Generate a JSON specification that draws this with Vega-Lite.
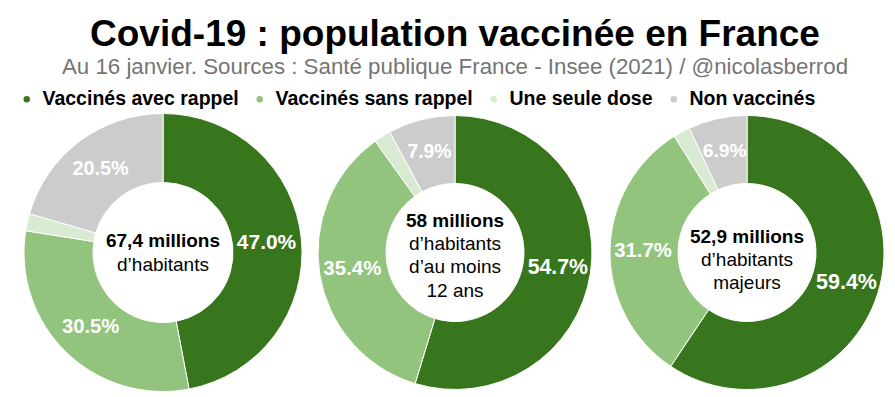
{
  "$schema": "https://vega.github.io/schema/vega-lite/v6.json",
  "padding": {"left": 17, "top": 15, "right": 0, "bottom": 4},
  "background": "#ffffff",
  "title": {
    "text": "Covid-19 : population vaccinée en France",
    "subtitle": "Au 16 janvier. Sources : Santé publique France - Insee (2021) / @nicolasberrod",
    "anchor": "middle",
    "font": "Liberation Sans",
    "fontSize": 37,
    "fontWeight": "bold",
    "color": "#000000",
    "subtitleFont": "Liberation Sans",
    "subtitleFontSize": 22.3,
    "subtitleColor": "#757575",
    "subtitlePadding": 2,
    "offset": 10
  },
  "datasets": {
    "parts": [
      {"pop": "A", "rang": 1, "cat": "Vaccinés avec rappel", "pct": 0.470},
      {"pop": "A", "rang": 2, "cat": "Vaccinés sans rappel", "pct": 0.305},
      {"pop": "A", "rang": 3, "cat": "Une seule dose", "pct": 0.020},
      {"pop": "A", "rang": 4, "cat": "Non vaccinés", "pct": 0.205},
      {"pop": "B", "rang": 1, "cat": "Vaccinés avec rappel", "pct": 0.547},
      {"pop": "B", "rang": 2, "cat": "Vaccinés sans rappel", "pct": 0.354},
      {"pop": "B", "rang": 3, "cat": "Une seule dose", "pct": 0.020},
      {"pop": "B", "rang": 4, "cat": "Non vaccinés", "pct": 0.079},
      {"pop": "C", "rang": 1, "cat": "Vaccinés avec rappel", "pct": 0.594},
      {"pop": "C", "rang": 2, "cat": "Vaccinés sans rappel", "pct": 0.317},
      {"pop": "C", "rang": 3, "cat": "Une seule dose", "pct": 0.020},
      {"pop": "C", "rang": 4, "cat": "Non vaccinés", "pct": 0.069}
    ],
    "centres": [
      {"pop": "A", "titre": "67,4 millions", "lignes": "d’habitants"},
      {"pop": "B", "titre": "58 millions", "lignes": "d’habitants|d’au moins|12 ans"},
      {"pop": "C", "titre": "52,9 millions", "lignes": "d’habitants|majeurs"}
    ]
  },
  "spacing": 0,
  "hconcat": [
    {
      "width": 292, "height": 277,
      "layer": [
        {
          "data": {"name": "parts"},
          "transform": [{"filter": "datum.pop === 'A'"}],
          "mark": {"type": "arc", "outerRadius": 139, "innerRadius": 70, "stroke": "#ffffff", "strokeWidth": 1},
          "encoding": {
            "theta": {"field": "pct", "type": "quantitative", "stack": true},
            "order": {"field": "rang", "type": "quantitative"},
            "color": {"field": "cat", "type": "nominal",
              "scale": {"domain": ["Vaccinés avec rappel", "Vaccinés sans rappel", "Une seule dose", "Non vaccinés"], "range": ["#38761d", "#93c47d", "#d9ead3", "#cccccc"]},
              "legend": {"title": null}}
          }
        },
        {
          "data": {"name": "parts"},
          "transform": [{"filter": "datum.pop === 'A'"}],
          "mark": {"type": "text", "radius": 104, "font": "Liberation Sans", "fontWeight": "bold", "fill": "#ffffff"},
          "encoding": {
            "theta": {"field": "pct", "type": "quantitative", "stack": true},
            "order": {"field": "rang", "type": "quantitative"},
            "detail": {"field": "cat", "type": "nominal"},
            "size": {"field": "pct", "type": "quantitative", "scale": {"domain": [0, 0.6], "range": [19, 21.5]}, "legend": null},
            "text": {"condition": {"test": "datum.cat === 'Une seule dose'", "value": ""}, "field": "pct", "type": "quantitative", "format": ".1%"}
          }
        },
        {
          "data": {"name": "centres"},
          "transform": [{"filter": "datum.pop === 'A'"}],
          "mark": {"type": "text", "font": "Liberation Sans", "fontWeight": "bold", "fontSize": 19, "fill": "#000000", "dy": -12},
          "encoding": {"text": {"field": "titre", "type": "nominal"}}
        },
        {
          "data": {"name": "centres"},
          "transform": [{"filter": "datum.pop === 'A'"}],
          "mark": {"type": "text", "font": "Liberation Sans", "fontSize": 19, "fill": "#000000", "lineBreak": "|", "lineHeight": 23, "dy": 12},
          "encoding": {"text": {"field": "lignes", "type": "nominal"}}
        }
      ]
    },
    {
      "width": 292, "height": 277,
      "layer": [
        {
          "data": {"name": "parts"},
          "transform": [{"filter": "datum.pop === 'B'"}],
          "mark": {"type": "arc", "outerRadius": 137, "innerRadius": 69, "stroke": "#ffffff", "strokeWidth": 1},
          "encoding": {
            "theta": {"field": "pct", "type": "quantitative", "stack": true},
            "order": {"field": "rang", "type": "quantitative"},
            "color": {"field": "cat", "type": "nominal", "legend": {"title": null}}
          }
        },
        {
          "data": {"name": "parts"},
          "transform": [{"filter": "datum.pop === 'B'"}],
          "mark": {"type": "text", "radius": 104, "font": "Liberation Sans", "fontWeight": "bold", "fill": "#ffffff"},
          "encoding": {
            "theta": {"field": "pct", "type": "quantitative", "stack": true},
            "order": {"field": "rang", "type": "quantitative"},
            "detail": {"field": "cat", "type": "nominal"},
            "size": {"field": "pct", "type": "quantitative", "scale": {"domain": [0, 0.6], "range": [19, 21.5]}, "legend": null},
            "text": {"condition": {"test": "datum.cat === 'Une seule dose'", "value": ""}, "field": "pct", "type": "quantitative", "format": ".1%"}
          }
        },
        {
          "data": {"name": "centres"},
          "transform": [{"filter": "datum.pop === 'B'"}],
          "mark": {"type": "text", "font": "Liberation Sans", "fontWeight": "bold", "fontSize": 19, "fill": "#000000", "dy": -32},
          "encoding": {"text": {"field": "titre", "type": "nominal"}}
        },
        {
          "data": {"name": "centres"},
          "transform": [{"filter": "datum.pop === 'B'"}],
          "mark": {"type": "text", "font": "Liberation Sans", "fontSize": 19, "fill": "#000000", "lineBreak": "|", "lineHeight": 23.5, "dy": -9},
          "encoding": {"text": {"field": "lignes", "type": "nominal"}}
        }
      ]
    },
    {
      "width": 292, "height": 277,
      "layer": [
        {
          "data": {"name": "parts"},
          "transform": [{"filter": "datum.pop === 'C'"}],
          "mark": {"type": "arc", "outerRadius": 137, "innerRadius": 69, "stroke": "#ffffff", "strokeWidth": 1},
          "encoding": {
            "theta": {"field": "pct", "type": "quantitative", "stack": true},
            "order": {"field": "rang", "type": "quantitative"},
            "color": {"field": "cat", "type": "nominal", "legend": {"title": null}}
          }
        },
        {
          "data": {"name": "parts"},
          "transform": [{"filter": "datum.pop === 'C'"}],
          "mark": {"type": "text", "radius": 104, "font": "Liberation Sans", "fontWeight": "bold", "fill": "#ffffff"},
          "encoding": {
            "theta": {"field": "pct", "type": "quantitative", "stack": true},
            "order": {"field": "rang", "type": "quantitative"},
            "detail": {"field": "cat", "type": "nominal"},
            "size": {"field": "pct", "type": "quantitative", "scale": {"domain": [0, 0.6], "range": [19, 21.5]}, "legend": null},
            "text": {"condition": {"test": "datum.cat === 'Une seule dose'", "value": ""}, "field": "pct", "type": "quantitative", "format": ".1%"}
          }
        },
        {
          "data": {"name": "centres"},
          "transform": [{"filter": "datum.pop === 'C'"}],
          "mark": {"type": "text", "font": "Liberation Sans", "fontWeight": "bold", "fontSize": 19, "fill": "#000000", "dy": -16},
          "encoding": {"text": {"field": "titre", "type": "nominal"}}
        },
        {
          "data": {"name": "centres"},
          "transform": [{"filter": "datum.pop === 'C'"}],
          "mark": {"type": "text", "font": "Liberation Sans", "fontSize": 19, "fill": "#000000", "lineBreak": "|", "lineHeight": 23, "dy": 7},
          "encoding": {"text": {"field": "lignes", "type": "nominal"}}
        }
      ]
    }
  ],
  "config": {
    "view": {"stroke": null},
    "legend": {
      "orient": "top",
      "direction": "horizontal",
      "symbolType": "circle",
      "symbolSize": 64,
      "labelFont": "Liberation Sans",
      "labelFontSize": 19.5,
      "labelFontWeight": "bold",
      "labelColor": "#000000",
      "labelLimit": 0,
      "columnPadding": 11,
      "labelOffset": 6,
      "offset": 2,
      "padding": 0
    }
  }
}
